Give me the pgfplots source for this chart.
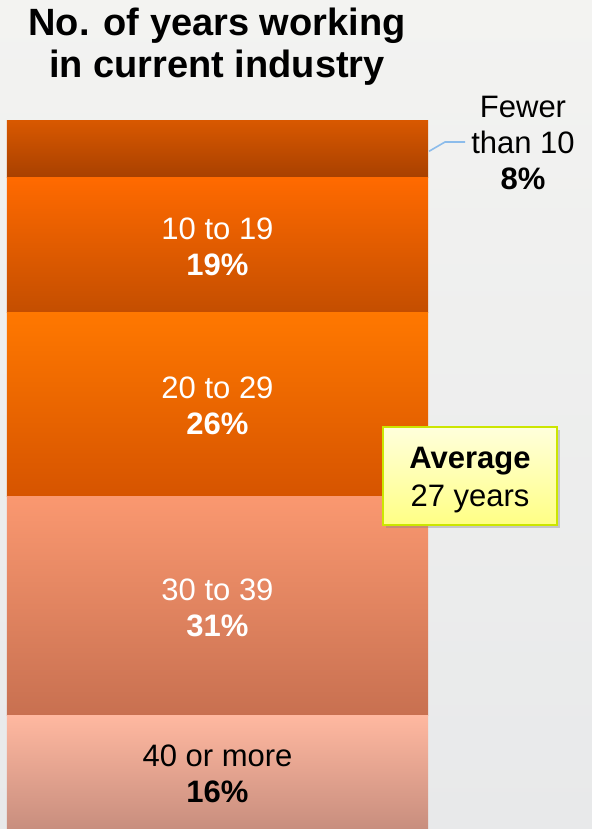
\documentclass[border=0pt]{standalone}
\usepackage{pgfplots}
\pgfplotsset{compat=1.18}
\usepackage{fontspec}
\setmainfont{Liberation Sans}
\usetikzlibrary{shadows}
\definecolor{bgtop}{HTML}{F3F3F1}
\definecolor{bgbot}{HTML}{E8E9EA}
\definecolor{aT}{HTML}{FFB8A0}\definecolor{aB}{HTML}{C88E7E}
\definecolor{bT}{HTML}{FA9870}\definecolor{bB}{HTML}{C87050}
\definecolor{cT}{HTML}{FF7800}\definecolor{cB}{HTML}{D65400}
\definecolor{dT}{HTML}{FF6A00}\definecolor{dB}{HTML}{C44E00}
\definecolor{eT}{HTML}{D85800}\definecolor{eB}{HTML}{A84000}
\definecolor{lineblue}{HTML}{8CBCEB}
\definecolor{boxedge}{HTML}{CCE600}
\definecolor{boxT}{HTML}{FFFFDC}
\definecolor{boxB}{HTML}{FFFF84}
\tikzset{seglab/.style={align=center, font=\fontsize{15.5pt}{18pt}\selectfont}}
\begin{document}
\begin{tikzpicture}
\shade[top color=bgtop, bottom color=bgbot] (0,0) rectangle (296pt,414.5pt);
\node[align=center, font=\fontsize{19pt}{21pt}\selectfont\bfseries] at (108.5pt,391pt) {No. of years working\\in current industry};
\begin{axis}[
  at={(3.5pt,0pt)}, anchor=south west,
  scale only axis, width=210.5pt, height=354pt,
  xmin=-0.5, xmax=0.5, ymin=0, ymax=100,
  hide axis, clip=false,
  ybar stacked, bar width=210.5pt,
]
\addplot[draw=none, top color=aT, bottom color=aB] coordinates {(0,16)};
\addplot[draw=none, top color=bT, bottom color=bB] coordinates {(0,31)};
\addplot[draw=none, top color=cT, bottom color=cB] coordinates {(0,26)};
\addplot[draw=none, top color=dT, bottom color=dB] coordinates {(0,19)};
\addplot[draw=none, top color=eT, bottom color=eB] coordinates {(0,8)};
\coordinate (s1) at (axis cs:0,8);
\coordinate (s2) at (axis cs:0,31.5);
\coordinate (s3) at (axis cs:0,60);
\coordinate (s4) at (axis cs:0,82.5);
\coordinate (s5) at (axis cs:0.5,96);
\end{axis}
\node[seglab, text=black] at ([yshift=-0.8pt]s1) {40 or more\\\textbf{16\%}};
\node[seglab, text=white] at ([yshift=-0.8pt]s2) {30 to 39\\\textbf{31\%}};
\node[seglab, text=white] at ([yshift=-0.8pt]s3) {20 to 29\\\textbf{26\%}};
\node[seglab, text=white] at ([yshift=-0.8pt]s4) {10 to 19\\\textbf{19\%}};
\draw[lineblue, line width=0.8pt] ([xshift=0.5pt,yshift=-1pt]s5) -- (222.5pt,343.5pt) -- (232.5pt,343.5pt);
\node[seglab] at (261.5pt,343pt) {Fewer\\than 10\\\textbf{8\%}};
\node[draw=boxedge, line width=1pt, top color=boxT, bottom color=boxB,
  minimum width=87pt, minimum height=49pt, inner sep=0pt,
  drop shadow={opacity=0.35, shadow xshift=1.5pt, shadow yshift=-1.5pt}] at (235pt,176.5pt) {};
\node[align=center, font=\fontsize{15.5pt}{19pt}\selectfont] at (235pt,174.5pt) {\textbf{Average}\\27 years};
\end{tikzpicture}
\end{document}
